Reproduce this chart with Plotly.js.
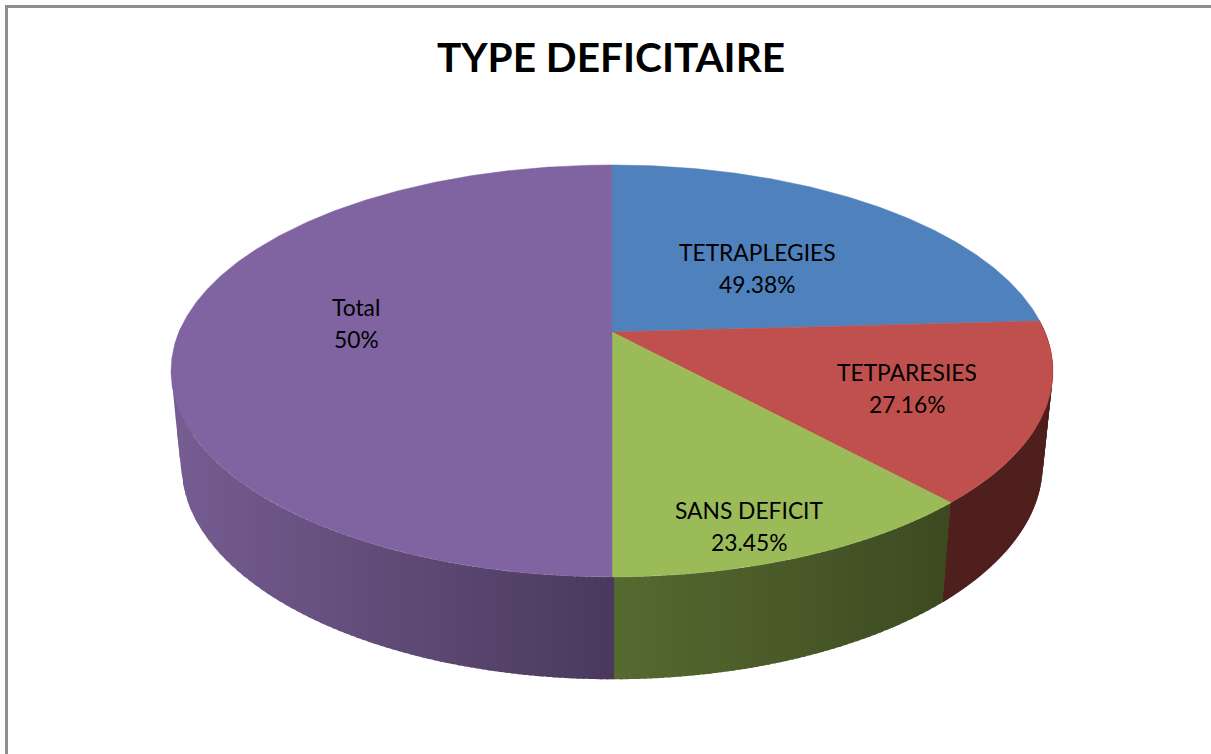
<!DOCTYPE html>
<html>
<head>
<meta charset="utf-8">
<script src="https://cdn.plot.ly/plotly-3.0.1.min.js"></script>
<style>html,body{margin:0;padding:0;background:#fff;overflow:hidden}</style>
</head>
<body>
<div id="chart" style="width:1211px;height:754px"></div>
<script>
// Data
const titleText = "TYPE DEFICITAIRE";
const categories = ["TETRAPLEGIES", "TETPARESIES", "SANS DEFICIT", "Total"];
const counts = [40, 22, 19, 81];
const percentLabels = ["49.38%", "27.16%", "23.45%", "50%"];

// Styles
const topColors = ["#4f81bd", "#c0504d", "#9bbb59", "#8064a2"];
const wallLeft  = [null, [79,31,30], [86,106,48], [118,93,146]];
const wallRight = [null, [79,31,30], [61,74,33], [74,57,92]];
const labelCenters = [[757,268],[907,388],[749,526],[356,323]];
const FONT = "Lato, 'Open Sans', sans-serif";
const BAND = 6;

// Perspective disc: projection of a tilted circle
const K = 0.189;
const topDisc = {cx:612, cy:332, a:433, b:198.6};
const botDisc = {cx:612, cy:424, a:423, b:207};
function project(disc, deg){
  const s = Math.sin(deg*Math.PI/180);
  const t = (deg - 2.1*Math.pow(s,8))*Math.PI/180;
  const u = Math.sin(t), v = Math.cos(t), w = 1 + K*v;
  return [disc.cx + disc.a*u/w, disc.cy - disc.b*v/w];
}

const total = counts.reduce((p,c)=>p+c,0);
const edges = [0];
counts.forEach(c=>edges.push(edges[edges.length-1] + c/total*360));

function mix(a,b,f){
  return "rgb("+a.map((x,i)=>Math.round(x+(b[i]-x)*f)).join(",")+")";
}

// Upper and lower limits of the side wall at a given x, for a range of angles
function wallSpan(x, lo, hi){
  let yMin = Infinity, yMax = -Infinity;
  const test = (p,q)=>{
    const mn = Math.min(p[0],q[0]), mx = Math.max(p[0],q[0]);
    if (x < mn-1e-6 || x > mx+1e-6) return;
    if (mx-mn < 1e-6){
      yMin = Math.min(yMin,p[1],q[1]); yMax = Math.max(yMax,p[1],q[1]); return;
    }
    const y = p[1]+(q[1]-p[1])*(x-p[0])/(q[0]-p[0]);
    yMin = Math.min(yMin,y); yMax = Math.max(yMax,y);
  };
  for (let d=lo; d<=hi; d+=0.5){
    const a = project(topDisc,d), b = project(botDisc,d);
    test(a,b);
    if (d+0.5<=hi){ test(a,project(topDisc,d+0.5)); test(b,project(botDisc,d+0.5)); }
  }
  return [yMin,yMax];
}

const traces = [];
// Side walls in vertical bands; each band runs under the next one, so no seam shows
[3,2].forEach(i=>{
  const lo = edges[i], hi = Math.min(edges[i+1], 272);
  let xL = Infinity, xR = -Infinity;
  for (let d=lo; d<=hi; d+=0.5){
    const a = project(topDisc,d);
    xL = Math.min(xL,a[0]); xR = Math.max(xR,a[0]);
  }
  const n = Math.ceil((xR-xL)/BAND);
  for (let j=0;j<n;j++){
    const xa = xL+(xR-xL)*j/n, xb = xL+(xR-xL)*(j+1)/n + 3;
    const xs=[], up=[], low=[];
    [xa,(xa+xb)/2,xb].forEach(x=>{
      const sp = wallSpan(x,lo-2,hi+2);
      if (isFinite(sp[0])){ xs.push(x); up.push(sp[0]); low.push(sp[1]); }
    });
    if (xs.length<2) continue;
    const col = mix(wallLeft[i], wallRight[i], (j+0.5)/n);
    const rx = xs.slice().reverse(), rl = low.slice().reverse();
    traces.push({type:"scatter",mode:"none",fill:"toself",fillcolor:col,
      hoverinfo:"skip",showlegend:false,
      x:xs.concat(rx,[xs[0]]),y:up.concat(rl,[up[0]])});
  }
});
// A line along the shared edge of the two shaded walls
(function(){
  const a = project(topDisc,edges[3]), b = project(botDisc,edges[3]);
  traces.push({type:"scatter",mode:"lines",line:{color:mix(wallLeft[3],wallRight[3],1),width:1.2},
    hoverinfo:"skip",showlegend:false,x:[a[0]-0.4,b[0]-0.4],y:[a[1],b[1]]});
})();
// The wall of the second slice, flat in colour, drawn over the neighbouring band ends
(function(){
  const i = 1, lo = edges[i], hi = edges[i+1];
  const n = Math.round(hi-lo);
  const col = mix(wallLeft[i], wallRight[i], 0.5);
  for (let j=0;j<n;j++){
    const d0 = lo+(hi-lo)*j/n, d1 = Math.min(hi, lo+(hi-lo)*(j+1)/n + 1);
    const a = project(topDisc,d0), b = project(topDisc,d1), c = project(botDisc,d1), e = project(botDisc,d0);
    traces.push({type:"scatter",mode:"none",fill:"toself",fillcolor:col,
      hoverinfo:"skip",showlegend:false,
      x:[a[0],b[0],c[0],e[0],a[0]],y:[a[1],b[1],c[1],e[1],a[1]]});
  }
})();
// Top face slices
counts.forEach((c,i)=>{
  const xs=[topDisc.cx], ys=[topDisc.cy];
  const n = Math.ceil((edges[i+1]-edges[i])*2);
  for(let j=0;j<=n;j++){
    const p = project(topDisc, edges[i]+(edges[i+1]-edges[i])*j/n);
    xs.push(p[0]); ys.push(p[1]);
  }
  xs.push(topDisc.cx); ys.push(topDisc.cy);
  traces.push({type:"scatter",mode:"lines",fill:"toself",fillcolor:topColors[i],
    line:{color:topColors[i],width:0.5},name:categories[i],text:percentLabels[i],
    hoverinfo:"name+text",showlegend:false,x:xs,y:ys});
});

const annotations = [];
categories.forEach((c,i)=>{
  const common = {xref:"x",yref:"y",showarrow:false,xanchor:"center",yanchor:"middle",
    font:{family:FONT,size:22.8,color:"#000"}};
  annotations.push(Object.assign({x:labelCenters[i][0],y:labelCenters[i][1]-16,text:c},common));
  annotations.push(Object.assign({x:labelCenters[i][0],y:labelCenters[i][1]+16,text:percentLabels[i]},common));
});

const layout = {
  width:1211,height:754,margin:{l:0,r:0,t:0,b:0},
  paper_bgcolor:"#fff",plot_bgcolor:"#fff",showlegend:false,hovermode:"closest",
  title:{text:"<b>"+titleText+"</b>",x:611/1211,xanchor:"center",y:1-58/754,yanchor:"middle",
    font:{family:FONT,size:40.6,color:"#000"}},
  xaxis:{range:[0,1211],visible:false,fixedrange:true},
  yaxis:{range:[754,0],visible:false,fixedrange:true},
  annotations:annotations,
  shapes:[
    {type:"line",xref:"x",yref:"y",x0:5,y0:6.5,x1:1211,y1:6.5,line:{color:"#8f8f8f",width:3}},
    {type:"line",xref:"x",yref:"y",x0:6.5,y0:5,x1:6.5,y1:754,line:{color:"#8f8f8f",width:3}}
  ]
};
Plotly.newPlot("chart",traces,layout,{displayModeBar:false});
</script>
</body>
</html>
